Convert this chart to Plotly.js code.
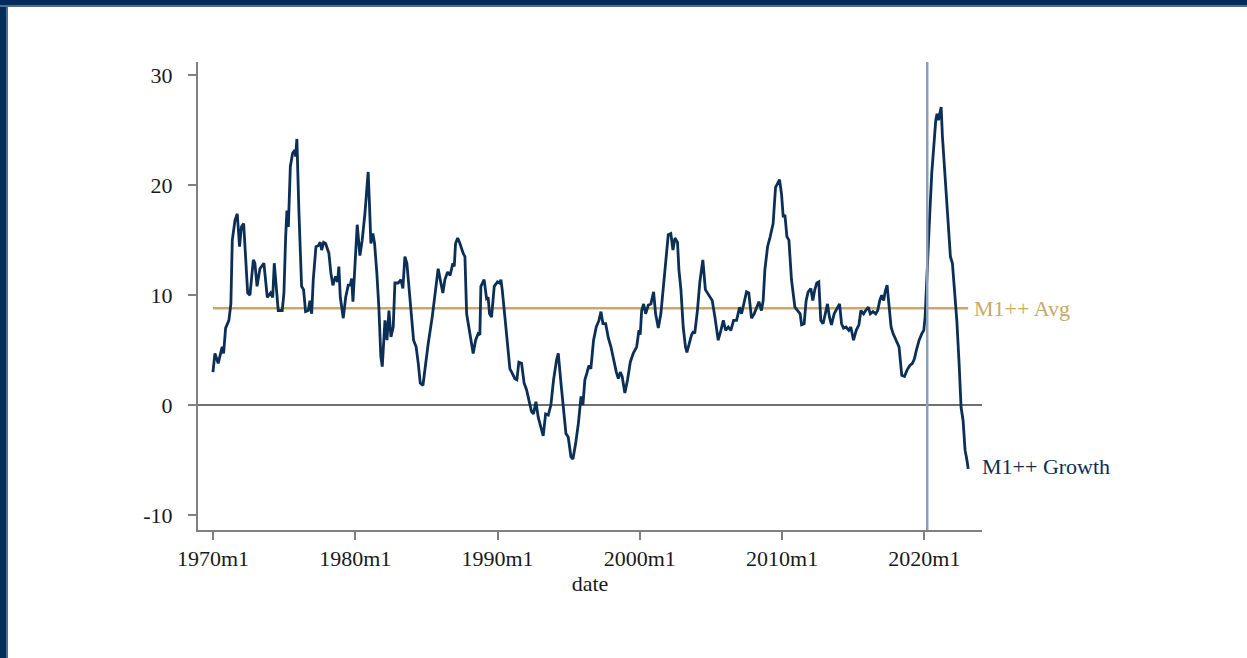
<!DOCTYPE html>
<html>
<head>
<meta charset="utf-8">
<script src="https://cdn.plot.ly/plotly-3.0.1.min.js"></script>
<style>
  html, body { margin: 0; padding: 0; background: #ffffff; }
  #wrap { position: relative; width: 1247px; height: 658px; overflow: hidden; }
  #chart { position: absolute; left: 0; top: 0; width: 1247px; height: 658px; }
  #topbar { position: absolute; left: 0; top: 0; width: 1247px; height: 5px; background: #002d59; border-bottom: 2px solid #4d6d92; }
  #leftbar { position: absolute; left: 0; top: 0; width: 6px; height: 658px; background: #002d59; border-right: 2px solid #4d6d92; }
</style>
</head>
<body>
<div id="wrap">
  <div id="chart"></div>
  <div id="leftbar"></div>
  <div id="topbar"></div>
</div>
<script>
// Dates as decimal years (monthly series)
const dateYears = [
1970.00,1970.14,1970.37,1970.65,1970.75,1970.89,1971.12,1971.26,1971.36,1971.55,1971.71,1971.87,
1972.00,1972.16,1972.44,1972.60,1972.84,1972.95,1973.10,1973.30,1973.58,1973.82,1974.05,1974.20,
1974.31,1974.48,1974.59,1974.87,1974.99,1975.11,1975.20,1975.30,1975.44,1975.60,1975.76,1975.81,
1975.90,1976.04,1976.23,1976.37,1976.51,1976.70,1976.82,1976.94,1977.05,1977.24,1977.40,1977.54,
1977.64,1977.78,1977.92,1978.15,1978.29,1978.43,1978.62,1978.76,1978.85,1978.95,1979.16,1979.33,
1979.51,1979.65,1979.75,1979.84,1979.98,1980.14,1980.33,1980.49,1980.68,1980.82,1980.91,1981.00,
1981.10,1981.24,1981.36,1981.52,1981.66,1981.80,1981.90,1982.09,1982.23,1982.37,1982.51,1982.67,
1982.79,1983.02,1983.21,1983.35,1983.49,1983.63,1983.77,1983.96,1984.10,1984.28,1984.43,1984.57,
1984.76,1984.94,1985.13,1985.41,1985.60,1985.83,1986.02,1986.16,1986.30,1986.49,1986.67,1986.86,
1986.96,1987.05,1987.20,1987.36,1987.59,1987.71,1987.83,1987.99,1988.13,1988.29,1988.46,1988.64,
1988.76,1988.83,1989.06,1989.23,1989.34,1989.44,1989.58,1989.77,1990.00,1990.14,1990.24,1990.33,
1990.52,1990.71,1990.87,1991.03,1991.22,1991.36,1991.50,1991.69,1991.87,1992.04,1992.20,1992.39,
1992.53,1992.70,1992.86,1993.05,1993.21,1993.38,1993.57,1993.75,1993.94,1994.15,1994.27,1994.46,
1994.65,1994.81,1994.97,1995.16,1995.30,1995.49,1995.68,1995.87,1996.00,1996.14,1996.28,1996.42,
1996.56,1996.75,1996.94,1997.13,1997.27,1997.41,1997.60,1997.79,1997.97,1998.16,1998.35,1998.49,
1998.63,1998.76,1998.95,1999.14,1999.33,1999.54,1999.78,1999.94,2000.03,2000.13,2000.27,2000.41,
2000.60,2000.78,2000.97,2001.11,2001.30,2001.48,2001.67,2001.81,2002.00,2002.18,2002.33,2002.47,
2002.65,2002.75,2002.89,2003.05,2003.21,2003.31,2003.50,2003.64,2003.77,2003.86,2004.05,2004.22,
2004.43,2004.61,2004.85,2005.09,2005.28,2005.51,2005.70,2005.87,2006.03,2006.22,2006.40,2006.59,
2006.80,2007.01,2007.15,2007.34,2007.50,2007.66,2007.85,2008.04,2008.23,2008.37,2008.55,2008.67,
2008.79,2008.98,2009.16,2009.37,2009.54,2009.68,2009.82,2009.96,2010.08,2010.20,2010.34,2010.48,
2010.66,2010.90,2011.13,2011.27,2011.37,2011.55,2011.69,2011.83,2012.02,2012.16,2012.30,2012.44,
2012.58,2012.72,2012.88,2013.05,2013.19,2013.33,2013.47,2013.66,2013.85,2014.04,2014.18,2014.32,
2014.50,2014.69,2014.83,2015.02,2015.21,2015.40,2015.54,2015.73,2015.87,2016.06,2016.20,2016.39,
2016.58,2016.72,2016.86,2017.00,2017.14,2017.24,2017.38,2017.52,2017.66,2017.80,2017.94,2018.08,
2018.22,2018.41,2018.60,2018.79,2018.98,2019.16,2019.30,2019.44,2019.63,2019.82,2019.96,2020.05,
2020.24,2020.38,2020.52,2020.66,2020.80,2020.89,2020.99,2021.08,2021.18,2021.27,2021.41,2021.55,
2021.69,2021.83,2021.97,2022.11,2022.28,2022.44,2022.58,2022.72,2022.86,2022.99,2023.08
];

// M1++ growth, %
const m1Growth = [
3.0,4.7,3.8,5.3,4.7,7.0,7.7,9.2,15.0,16.8,17.4,14.4,
16.2,16.5,10.2,10.0,13.2,12.9,10.8,12.4,12.9,9.8,10.2,9.8,
12.9,9.8,8.6,8.6,10.2,15.3,17.7,16.2,21.7,22.9,23.2,22.6,
24.2,17.7,10.8,10.5,8.5,8.6,9.5,8.3,11.4,14.4,14.5,14.8,
14.1,14.8,14.7,13.8,12.0,10.9,11.7,11.2,12.6,9.8,7.9,9.8,
10.9,10.9,11.5,9.4,12.3,16.4,13.6,15.0,17.4,19.5,21.2,18.3,
14.7,15.6,14.7,12.0,8.9,4.4,3.5,7.7,5.9,8.6,6.2,7.1,
11.1,11.1,11.4,10.6,13.5,12.9,10.5,8.0,5.9,5.3,3.8,2.0,
1.8,3.8,5.6,8.0,9.8,12.4,11.1,10.2,11.4,12.1,11.8,12.9,
12.6,14.7,15.2,14.7,13.8,13.5,8.3,7.1,6.1,4.7,5.9,6.5,
6.4,10.8,11.4,9.7,9.8,8.3,8.0,10.8,11.2,11.1,11.4,10.5,
8.0,5.3,3.3,2.9,2.4,2.3,3.9,3.8,2.0,1.4,0.5,-0.6,
-0.8,0.3,-1.1,-2.0,-2.8,-0.8,-0.9,0.0,2.3,4.1,4.7,2.0,
-0.8,-2.6,-2.9,-4.7,-4.9,-3.5,-1.7,0.8,0.0,2.3,2.9,3.6,
3.3,5.9,7.1,7.7,8.5,7.4,7.4,6.1,5.3,4.1,3.0,2.4,
3.0,2.6,1.1,2.3,3.9,4.7,5.3,6.8,6.4,8.6,9.2,8.3,
9.1,9.2,10.3,8.3,7.0,8.3,11.1,13.0,15.5,15.6,14.1,15.2,
14.8,12.3,10.5,7.1,5.3,4.8,5.6,6.4,6.7,6.5,8.6,11.2,
13.2,10.5,10.0,9.5,8.0,5.9,6.8,7.7,6.8,7.1,6.8,7.7,
7.7,8.9,8.3,9.5,10.3,10.2,7.9,8.3,8.9,9.4,8.6,9.5,
12.3,14.4,15.3,16.5,19.8,20.2,20.5,19.2,17.1,17.3,15.3,15.0,
11.4,8.9,8.5,8.3,7.3,7.4,9.5,10.3,10.6,9.5,10.5,11.1,
11.2,7.7,7.4,8.3,9.2,8.0,7.3,8.3,8.8,9.2,7.4,7.0,
7.1,6.8,7.1,5.9,6.8,7.3,8.6,8.3,8.6,8.9,8.3,8.5,
8.3,8.6,9.5,10.0,9.5,10.3,10.9,8.9,7.1,6.5,6.1,5.6,
5.3,2.7,2.6,3.2,3.6,3.8,4.2,5.0,5.9,6.5,6.8,8.0,
14.1,17.4,21.1,23.5,25.9,26.5,25.9,26.5,27.1,24.4,21.7,18.3,
16.2,13.5,12.9,10.8,7.7,3.8,-0.2,-1.4,-4.1,-5.0,-5.8
];

const m1Avg = 8.8;          // long-run average
const markerDate = 2020.2;  // vertical marker (2020m3)

const xTickVals = [1970, 1980, 1990, 2000, 2010, 2020];
const xTickText = ['1970m1', '1980m1', '1990m1', '2000m1', '2010m1', '2020m1'];
const yTickVals = [-10, 0, 10, 20, 30];
const yTickText = ['-10', '0', '10', '20', '30'];

const navy = '#0b2f57';
const gold = '#c8a966';
const font = 'Liberation Serif, Times New Roman, serif';

const firstDate = dateYears[0];
const lastDate = dateYears[dateYears.length - 1];
const lastVal = m1Growth[m1Growth.length - 1];

const traces = [
  { x: [firstDate, lastDate], y: [m1Avg, m1Avg], mode: 'lines',
    line: { color: gold, width: 2.6 }, hoverinfo: 'skip' },
  { x: dateYears, y: m1Growth, mode: 'lines',
    line: { color: navy, width: 2.8 }, hoverinfo: 'skip' }
];

const layout = {
  width: 1247, height: 658,
  margin: { l: 198, r: 265, t: 62, b: 128 },
  paper_bgcolor: '#ffffff', plot_bgcolor: '#ffffff',
  showlegend: false,
  font: { family: font, size: 22, color: '#1a1a1a' },
  xaxis: {
    range: [1968.95, 2024.05],
    tickvals: xTickVals, ticktext: xTickText,
    showgrid: false, zeroline: false,
    showline: true, linecolor: '#808080', linewidth: 2,
    ticks: 'outside', ticklen: 8, tickwidth: 2, tickcolor: '#808080',
    tickfont: { family: font, size: 22, color: '#1a1a1a' },
    title: { text: 'date', font: { family: font, size: 22, color: '#1a1a1a' }, standoff: 0 }
  },
  yaxis: {
    range: [-11.36, 31.2],
    tickvals: yTickVals, ticktext: yTickText,
    showgrid: false, zeroline: false,
    showline: true, linecolor: '#808080', linewidth: 2,
    ticks: 'outside', ticklen: 8, tickwidth: 2, tickcolor: '#808080',
    ticklabelstandoff: 11,
    tickfont: { family: font, size: 22, color: '#1a1a1a' }
  },
  shapes: [
    { type: 'line', xref: 'paper', yref: 'y', x0: 0, x1: 1, y0: 0, y1: 0,
      line: { color: '#707070', width: 2 }, layer: 'below' },
    { type: 'line', xref: 'x', yref: 'paper', x0: markerDate, x1: markerDate, y0: 0, y1: 1,
      line: { color: '#8aa0b6', width: 2.5 }, layer: 'above' }
  ],
  annotations: [
    { x: lastDate, y: m1Avg, xref: 'x', yref: 'y', text: 'M1++ Avg', showarrow: false,
      xanchor: 'left', yanchor: 'middle', xshift: 4,
      font: { family: font, size: 22, color: gold } },
    { x: lastDate, y: lastVal, xref: 'x', yref: 'y', text: 'M1++ Growth', showarrow: false,
      xanchor: 'left', yanchor: 'middle', xshift: 12, yshift: 2,
      font: { family: font, size: 22, color: navy } }
  ]
};

Plotly.newPlot('chart', traces, layout, { displayModeBar: false, staticPlot: true });
</script>
</body>
</html>
